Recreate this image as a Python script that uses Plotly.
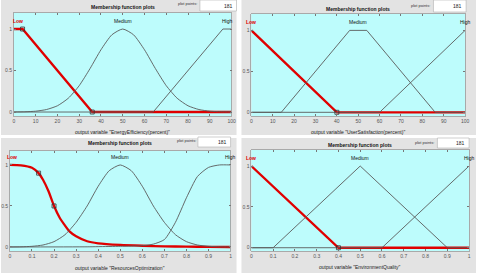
import plotly.graph_objects as go

# ---------------- data ----------------
# Panel 1: EnergyEfficiency(percent)
ee_low_x = [0, 4, 36, 100]
ee_low_y = [1, 1, 0, 0]
ee_med_x = [0, 5, 10, 15, 20, 25, 30, 35, 40, 45, 50, 55, 60, 65, 70, 75, 80, 85, 90, 95, 100]
ee_med_y = [0.001, 0.003, 0.01, 0.03, 0.075, 0.166, 0.317, 0.524, 0.75, 0.93, 1.0,
            0.93, 0.75, 0.524, 0.317, 0.166, 0.075, 0.03, 0.01, 0.003, 0.001]
ee_high_x = [0, 64, 96, 100]
ee_high_y = [0, 0, 1, 1]
ee_pts_x = [4, 36]
ee_pts_y = [1, 0]

# Panel 2: UserSatisfaction(percent)
us_low_x = [0, 40, 100]
us_low_y = [1, 0, 0]
us_med_x = [0, 14, 46, 54, 86, 100]
us_med_y = [0, 0, 1, 1, 0, 0]
us_high_x = [0, 60, 100]
us_high_y = [0, 0, 1]
us_pts_x = [40]
us_pts_y = [0]

# Panel 3: ResourcesOptimization
ro_low_x = [0, 0.05, 0.1, 0.13, 0.15, 0.175, 0.2, 0.225, 0.25, 0.27, 0.3, 0.35, 0.4,
            0.5, 0.6, 0.7, 0.8, 0.9, 1.0]
ro_low_y = [1.0, 0.995, 0.965, 0.9, 0.82, 0.68, 0.5, 0.36, 0.26, 0.19, 0.13, 0.07, 0.045,
            0.025, 0.015, 0.008, 0.004, 0.002, 0.0]
ro_med_x = [0, 0.05, 0.1, 0.15, 0.2, 0.25, 0.3, 0.35, 0.4, 0.45, 0.5, 0.55, 0.6, 0.65,
            0.7, 0.75, 0.8, 0.85, 0.9, 0.95, 1.0]
ro_med_y = [0.0005, 0.002, 0.008, 0.024, 0.065, 0.15, 0.3, 0.5, 0.74, 0.93, 1.0,
            0.93, 0.74, 0.5, 0.3, 0.15, 0.065, 0.024, 0.008, 0.002, 0.0005]
ro_high_x = [0, 0.35, 0.4, 0.5, 0.6, 0.65, 0.7, 0.75, 0.8, 0.85, 0.9, 0.95, 1.0]
ro_high_y = [0, 0.002, 0.004, 0.008, 0.016, 0.035, 0.09, 0.3, 0.6, 0.86, 0.97, 1.0, 1.0]
ro_pts_x = [0.13, 0.2]
ro_pts_y = [0.9, 0.5]

# Panel 4: EnvironmentQuality
eq_low_x = [0, 0.4, 1]
eq_low_y = [1, 0, 0]
eq_med_x = [0, 0.1, 0.5, 0.9, 1]
eq_med_y = [0, 0, 1, 0, 0]
eq_high_x = [0, 0.6, 1]
eq_high_y = [0, 0, 1]
eq_pts_x = [0.4]
eq_pts_y = [0]

mf_names = ["Low", "Medium", "High"]
panel_xlabels = ['output variable "EnergyEfficiency(percent)"',
                 'output variable "UserSatisfaction(percent)"',
                 'output variable "ResourcesOptimization"',
                 'output variable "EnvironmentQuality"']
pct_ticks = [0, 10, 20, 30, 40, 50, 60, 70, 80, 90, 100]
unit_ticks = [0, 0.1, 0.2, 0.3, 0.4, 0.5, 0.6, 0.7, 0.8, 0.9, 1]
unit_tick_text = ["0", "0.1", "0.2", "0.3", "0.4", "0.5", "0.6", "0.7", "0.8", "0.9", "1"]
y_ticks = [0, 0.5, 1]
plot_points = "181"

W, H = 480, 273
def px(x):
    return x / W
def py(y):
    return 1 - y / H

FONT = "Liberation Sans"
GREY_BG = "#e3e3e3"
CYAN = "#bdfcfc"
MF_COLOR = "#5a5a5a"
RED = "#e00000"

panels = [
    dict(data=(ee_low_x, ee_low_y, ee_med_x, ee_med_y, ee_high_x, ee_high_y, ee_pts_x, ee_pts_y),
         smooth=(False, True, False), xmax=100, ticks=pct_ticks, ticktext=[str(t) for t in pct_ticks],
         label_x=(2, 50, 98),
         bg=(0, 0, 238, 135), plot=(13, 13, 233, 116), yr=(-0.048, 1.193),
         title_y=7, xlab_y=132, box=(201, 0, 238, 11), pp_text_x=188, pp_y=4),
    dict(data=(us_low_x, us_low_y, us_med_x, us_med_y, us_high_x, us_high_y, us_pts_x, us_pts_y),
         smooth=(False, False, False), xmax=100, ticks=pct_ticks, ticktext=[str(t) for t in pct_ticks],
         label_x=(0, 50, 100),
         bg=(243, 0, 480, 135), plot=(253, 14, 469, 116), yr=(-0.045, 1.2),
         title_y=9, xlab_y=132, box=(437, 0, 470, 12), pp_text_x=424, pp_y=5),
    dict(data=(ro_low_x, ro_low_y, ro_med_x, ro_med_y, ro_high_x, ro_high_y, ro_pts_x, ro_pts_y),
         smooth=(True, True, True), xmax=1, ticks=unit_ticks, ticktext=unit_tick_text,
         label_x=(0.01, 0.5, 1.0),
         bg=(0, 138, 238, 273), plot=(9, 151, 232, 251), yr=(-0.049, 1.17),
         title_y=143, xlab_y=268, box=(199, 137, 232, 147), pp_text_x=187, pp_y=140),
    dict(data=(eq_low_x, eq_low_y, eq_med_x, eq_med_y, eq_high_x, eq_high_y, eq_pts_x, eq_pts_y),
         smooth=(False, False, False), xmax=1, ticks=unit_ticks, ticktext=unit_tick_text,
         label_x=(0, 0.5, 1.0),
         bg=(243, 138, 480, 273), plot=(253, 150, 473, 251), yr=(-0.04, 1.196),
         title_y=145, xlab_y=267, box=(441, 138, 473, 148), pp_text_x=428, pp_y=142),
]

fig = go.Figure()
shapes = []
annotations = []
layout_axes = {}

for i, p in enumerate(panels):
    n = i + 1
    xa = "x" if n == 1 else f"x{n}"
    ya = "y" if n == 1 else f"y{n}"
    lx, ly, mx, my, hx, hy, ptx, pty = p["data"]
    s_low, s_med, s_high = p["smooth"]

    fig.add_trace(go.Scatter(x=lx, y=ly, mode="lines", xaxis=xa, yaxis=ya,
                             line=dict(color=RED, width=2.3, shape="spline" if s_low else "linear",
                                       smoothing=0.6),
                             hoverinfo="skip", showlegend=False))
    fig.add_trace(go.Scatter(x=mx, y=my, mode="lines", xaxis=xa, yaxis=ya,
                             line=dict(color=MF_COLOR, width=0.9, shape="spline" if s_med else "linear",
                                       smoothing=0.6),
                             hoverinfo="skip", showlegend=False))
    fig.add_trace(go.Scatter(x=hx, y=hy, mode="lines", xaxis=xa, yaxis=ya,
                             line=dict(color=MF_COLOR, width=0.9, shape="spline" if s_high else "linear",
                                       smoothing=0.6),
                             hoverinfo="skip", showlegend=False))
    fig.add_trace(go.Scatter(x=ptx, y=pty, mode="markers", xaxis=xa, yaxis=ya,
                             marker=dict(symbol="square-open", size=4, color="#333333",
                                         line=dict(width=0.8)),
                             hoverinfo="skip", showlegend=False))

    x0, y0, x1, y1 = p["plot"]
    layout_axes["xaxis" if n == 1 else f"xaxis{n}"] = dict(
        domain=[px(x0), px(x1)], range=[0, p["xmax"]], anchor=ya,
        tickvals=p["ticks"], ticktext=p["ticktext"], ticks="inside", ticklen=2,
        tickcolor="#777777", tickfont=dict(size=5, color="#555555", family=FONT),
        showgrid=False, zeroline=False, showline=True, linecolor="#9a9a9a",
        linewidth=0.8, mirror="ticks", fixedrange=True)
    layout_axes["yaxis" if n == 1 else f"yaxis{n}"] = dict(
        domain=[py(y1), py(y0)], range=list(p["yr"]), anchor=xa,
        tickvals=y_ticks, ticktext=["0", "0.5", "1"], ticks="inside", ticklen=2,
        tickcolor="#777777", tickfont=dict(size=5, color="#555555", family=FONT),
        showgrid=False, zeroline=False, showline=True, linecolor="#9a9a9a",
        linewidth=0.8, mirror="ticks", fixedrange=True)

    bx0, by0, bx1, by1 = p["bg"]
    shapes.append(dict(type="rect", xref="paper", yref="paper", x0=px(bx0), x1=px(bx1),
                       y0=py(by1), y1=py(by0), fillcolor=GREY_BG, line=dict(width=0), layer="below"))
    shapes.append(dict(type="rect", xref="paper", yref="paper", x0=px(x0), x1=px(x1),
                       y0=py(y1), y1=py(y0), fillcolor=CYAN, line=dict(width=0), layer="below"))
    # plot points box
    qx0, qy0, qx1, qy1 = p["box"]
    shapes.append(dict(type="rect", xref="paper", yref="paper", x0=px(qx0), x1=px(qx1),
                       y0=py(qy1), y1=py(qy0), fillcolor="white",
                       line=dict(width=0.6, color="#b0b0b0"), layer="above"))
    annotations.append(dict(text="plot points:", xref="paper", yref="paper",
                            x=px(p["pp_text_x"]), y=py(p["pp_y"]), showarrow=False,
                            font=dict(size=4, color="#333333", family=FONT),
                            xanchor="center", yanchor="middle"))
    annotations.append(dict(text=plot_points, xref="paper", yref="paper",
                            x=px(qx1 - 2), y=py((qy0 + qy1) / 2), showarrow=False,
                            font=dict(size=5, color="#222222", family=FONT),
                            xanchor="right", yanchor="middle"))
    # title
    annotations.append(dict(text="<b>Membership function plots</b>", xref="paper", yref="paper",
                            x=px((x0 + x1) / 2), y=py(p["title_y"]), showarrow=False,
                            font=dict(size=5, color="#111111", family=FONT),
                            xanchor="center", yanchor="middle"))
    # x label
    annotations.append(dict(text=panel_xlabels[i], xref="paper", yref="paper",
                            x=px((x0 + x1) / 2), y=py(p["xlab_y"]), showarrow=False,
                            font=dict(size=5, color="#222222", family=FONT),
                            xanchor="center", yanchor="middle"))
    # MF labels
    for j, name in enumerate(mf_names):
        annotations.append(dict(text=("<b>%s</b>" % name) if j == 0 else name,
                                xref=xa, yref=ya, x=p["label_x"][j], y=1.1,
                                showarrow=False, xanchor="center", yanchor="middle",
                                font=dict(size=5, color=RED if j == 0 else "#111111",
                                          family=FONT)))

fig.update_layout(width=W, height=H, margin=dict(l=0, r=0, t=0, b=0),
                  paper_bgcolor="white", plot_bgcolor="rgba(0,0,0,0)",
                  shapes=shapes, annotations=annotations, showlegend=False,
                  font=dict(family=FONT), **layout_axes)

fig.write_html("out.html",
               config={"displayModeBar": False, "staticPlot": True},
               post_script="document.body.style.margin='0';document.body.style.padding='0';"
                           "document.body.style.overflow='hidden';")
